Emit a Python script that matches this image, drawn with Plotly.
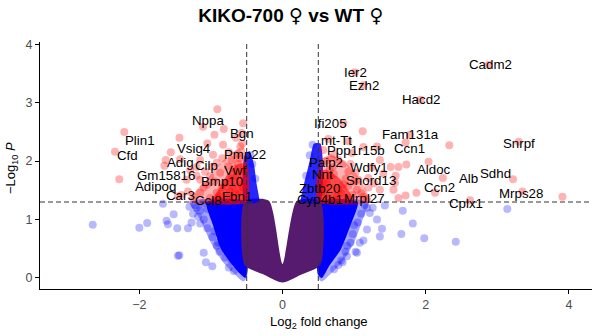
import plotly.graph_objects as go

# ---------------- data (log2 fold change, -log10 P) ----------------
labeled_genes = ["Plin1", "Cfd", "Adipoq", "Gm15816", "Vsig4", "Adig", "Nppa", "Bgn", "Pmp22",
                 "Cilp", "Vwf", "Bmp10", "Car3", "Ccl8", "Fbn1",
                 "Cadm2", "Ier2", "Ezh2", "Hacd2", "Ifi205", "Fam131a", "mt-Tt", "Ccn1",
                 "Ppp1r15b", "Snrpf", "Paip2", "Wdfy1", "Aldoc", "Nnt", "Snord13", "Alb",
                 "Sdhd", "Zbtb20", "Ccn2", "Mrps28", "Cyp4b1", "Mrpl27", "Cplx1"]
labeled_fc = [-2.21, -2.34, -2.28, -1.65, -1.44, -1.56, -0.91, -0.55, -0.57,
              -0.97, -0.71, -0.64, -1.41, -1.32, -0.59,
              2.88, 1.01, 1.13, 1.93, 0.85, 1.78, 0.64, 1.72,
              0.92, 3.30, 0.57, 0.97, 2.04, 0.56, 1.20, 2.24,
              3.22, 0.55, 2.13, 3.35, 0.64, 0.90, 2.62]
labeled_p = [2.50, 2.16, 1.69, 1.92, 2.40, 2.15, 2.89, 2.65, 2.48,
             2.11, 2.02, 1.74, 1.42, 1.48, 1.46,
             3.65, 3.52, 3.30, 3.05, 2.65, 2.45, 2.38, 2.32,
             2.34, 2.33, 2.19, 2.14, 1.99, 1.65, 1.71, 1.71,
             1.69, 1.48, 1.46, 1.48, 1.37, 1.34, 1.33]

# other significant genes (p < 0.05 and |log2FC| > 0.5)
sig_fc = [-1.63, -1.11, -0.82, -1.43, -1.29, -0.83, -0.59, -1.15, -1.01, -0.87,
          -1.15, -0.92, -0.69, -0.78, -1.01, -1.25, -1.46, -0.55, -0.76, -0.92,
          -1.15, -1.34, -1.05, -0.65, -0.70, -0.85, -1.10, -0.62, -0.75, -1.20,
          -0.95, -0.60, -0.66, -0.72, -0.80, -0.58, -0.88, -0.53, -0.68, -0.56,
          -1.05, -0.98, -0.90, -1.20, -1.08, -0.62, -0.55, -0.74, -0.84, -0.95,
          2.33, 1.73, 1.62, 1.51, 1.58, 1.57, 1.55, 1.87, 1.72, 1.62,
          3.91, 1.12, 1.13, 1.32, 0.78, 1.36, 0.92, 0.66, 1.41, 0.78,
          1.04, 1.36, 1.13, 0.70, 0.85, 1.00, 0.60, 0.75, 1.10, 0.95,
          1.25, 1.20, 0.68, 0.58, 0.62, 0.72, 0.82, 0.54, 0.66, 0.88,
          0.98, 1.06, 0.84, 0.72, 1.18, 0.60, 0.92, 1.28, 0.76, 1.02]
sig_p = [2.02, 2.59, 2.55, 2.03, 1.85, 2.28, 2.25, 1.68, 1.74, 1.80,
         1.46, 1.46, 1.57, 1.37, 1.37, 1.40, 1.40, 1.85, 1.91, 1.97,
         2.02, 1.68, 2.30, 2.40, 1.35, 1.55, 1.55, 1.95, 2.15, 1.90,
         2.45, 2.05, 1.45, 1.70, 1.62, 1.60, 1.40, 1.35, 1.88, 2.30,
         1.60, 1.90, 1.35, 1.75, 1.82, 2.12, 1.55, 1.48, 2.05, 1.65,
         2.27, 1.94, 1.90, 1.90, 1.75, 1.63, 1.51, 1.46, 1.41, 1.37,
         1.39, 2.51, 2.24, 2.25, 2.02, 2.02, 1.82, 1.74, 1.79, 1.51,
         1.51, 1.51, 1.39, 1.90, 1.60, 1.65, 1.55, 1.40, 1.45, 1.95,
         1.90, 1.55, 2.05, 1.40, 1.62, 1.78, 1.45, 1.50, 1.85, 1.70,
         1.42, 1.68, 1.95, 2.12, 1.35, 2.00, 1.58, 1.62, 1.34, 1.80]

# genes passing only one cut-off (outliers of the blue clouds)
one_fc = [-2.65, -2.00, -1.89, -1.67, -1.62, -1.52, -1.47, -1.46, -1.32, -1.10,
          -1.07, -0.98, -0.71, -1.60, -1.27, -1.15, -1.44, -1.20, -1.05, -0.90,
          -1.22, -1.15, -1.10, -1.05, -0.98, -0.92, -0.88, -0.80, -0.75, -0.68,
          -1.25, -1.12, -0.95, -0.85, -1.30, -1.18,
          1.68, 1.82, 1.66, 1.98, 2.42, 3.14, 1.43, 1.39, 1.32, 1.18,
          1.08, 1.36, 1.04, 0.90, 1.22, 0.84, 0.55, 1.13, 1.02, 1.26,
          1.15, 1.10, 1.05, 0.98, 0.95, 0.88, 0.82, 0.72, 1.18, 1.00,
          0.90, 0.78,
          -0.45, 0.42, 0.38, -0.42, 0.33, -0.38]
one_p = [0.91, 0.86, 0.94, 1.27, 0.98, 1.09, 0.85, 0.38, 0.85, 0.43,
         0.27, 0.20, 0.30, 0.92, 0.95, 0.93, 0.39, 1.20, 1.18, 0.60,
         1.25, 1.15, 1.00, 0.85, 0.70, 0.55, 0.45, 0.35, 0.18, 0.12,
         1.10, 1.28, 0.80, 0.60, 1.22, 1.05,
         1.15, 0.93, 0.75, 0.68, 0.62, 1.18, 1.24, 0.84, 1.00, 0.83,
         0.60, 0.71, 0.43, 0.37, 1.11, 0.27, 0.20, 0.64, 0.45, 1.20,
         1.25, 1.10, 0.95, 0.75, 0.60, 0.45, 0.30, 0.15, 1.20, 0.90,
         0.55, 0.22,
         2.10, 2.28, 2.10, 1.95, 1.75, 1.70]

# outlines (visual edges) of the densely overplotted clouds
fc_fringe_left_fc = [-0.50, -1.30, -1.15, -1.00, -0.85, -0.70, -0.55, -0.50]
fc_fringe_left_p = [1.30, 1.30, 1.00, 0.60, 0.30, 0.10, -0.06, 0.00]
fc_core_left_fc = [-0.50, -1.06, -0.97, -0.86, -0.72, -0.60, -0.52, -0.50]
fc_core_left_p = [1.30, 1.30, 0.90, 0.50, 0.25, 0.08, 0.00, 0.05]
fc_fringe_right_fc = [0.50, 1.20, 1.12, 1.00, 0.85, 0.70, 0.55, 0.50]
fc_fringe_right_p = [1.30, 1.30, 1.00, 0.60, 0.30, 0.10, -0.06, 0.00]
fc_core_right_fc = [0.50, 1.05, 0.95, 0.82, 0.65, 0.55, 0.50]
fc_core_right_p = [1.30, 1.30, 0.90, 0.50, 0.20, 0.00, 0.05]
p_only_left_fc = [-0.53, -0.53, -0.46, -0.40, -0.36, -0.33]
p_only_left_p = [1.30, 2.10, 2.17, 1.95, 1.60, 1.30]
p_only_right_fc = [0.53, 0.53, 0.44, 0.38, 0.30, 0.26]
p_only_right_p = [1.30, 2.30, 2.30, 2.00, 1.60, 1.30]
ns_fc = [-0.53, -0.53, -0.25, 0.00, 0.25, 0.53, 0.53, 0.20, 0.00, -0.19]
ns_p = [1.32, 0.22, 0.05, -0.08, 0.05, 0.22, 1.32, 1.32, 0.24, 1.32]
sig_halo_left_fc = [-0.50, -1.30, -1.22, -1.05, -0.88, -0.70, -0.55, -0.50]
sig_halo_left_p = [1.30, 1.30, 1.48, 1.70, 1.95, 2.15, 2.25, 2.10]
sig_core_left_fc = [-0.50, -1.00, -0.90, -0.78, -0.62, -0.50]
sig_core_left_p = [1.30, 1.30, 1.50, 1.75, 1.95, 1.95]
sig_halo_right_fc = [0.50, 1.22, 1.15, 1.02, 0.85, 0.66, 0.52]
sig_halo_right_p = [1.30, 1.30, 1.55, 1.80, 2.00, 2.10, 2.00]
sig_core_right_fc = [0.50, 1.00, 0.92, 0.80, 0.62, 0.50]
sig_core_right_p = [1.30, 1.30, 1.50, 1.70, 1.85, 1.80]

fc_cutoff = 0.5
p_cutoff = 1.30

# label text positions (after repel)
label_pos = {
    "Plin1": (-1.99, 2.35), "Cfd": (-2.17, 2.09), "Adipoq": (-1.78, 1.57),
    "Gm15816": (-1.63, 1.75), "Vsig4": (-1.24, 2.22), "Adig": (-1.43, 1.98),
    "Nppa": (-1.04, 2.69), "Bgn": (-0.57, 2.48), "Pmp22": (-0.52, 2.12),
    "Cilp": (-1.06, 1.92), "Vwf": (-0.66, 1.84), "Bmp10": (-0.84, 1.65),
    "Car3": (-1.43, 1.41), "Ccl8": (-1.03, 1.32), "Fbn1": (-0.63, 1.40),
    "Cadm2": (2.91, 3.65), "Ier2": (1.02, 3.52), "Ezh2": (1.14, 3.29),
    "Hacd2": (1.93, 3.05), "Ifi205": (0.67, 2.65), "Fam131a": (1.79, 2.46),
    "mt-Tt": (0.76, 2.35), "Ccn1": (1.77, 2.22), "Ppp1r15b": (1.03, 2.18),
    "Snrpf": (3.31, 2.31), "Paip2": (0.61, 1.98), "Wdfy1": (1.21, 1.89),
    "Aldoc": (2.12, 1.85), "Nnt": (0.56, 1.77), "Snord13": (1.24, 1.67),
    "Alb": (2.60, 1.70), "Sdhd": (2.97, 1.78), "Zbtb20": (0.51, 1.53),
    "Ccn2": (2.19, 1.54), "Mrps28": (3.33, 1.45), "Cyp4b1": (0.52, 1.34),
    "Mrpl27": (1.15, 1.36), "Cplx1": (2.56, 1.28),
}

RED = "#ff0000"
BLUE = "#0000ff"
PURPLE = "#561a6e"
FONT = "Liberation Sans, Arial, sans-serif"

fig = go.Figure()


def cloud(xs, ys, color, opacity):
    fig.add_trace(go.Scatter(x=xs + xs[:1], y=ys + ys[:1], mode="lines", fill="toself",
                             fillcolor=color, line=dict(color="rgba(0,0,0,0)", width=0, shape="spline",
                                                        smoothing=0.6),
                             opacity=opacity, hoverinfo="skip", showlegend=False))


cloud(fc_fringe_left_fc, fc_fringe_left_p, BLUE, 0.35)
cloud(fc_fringe_right_fc, fc_fringe_right_p, BLUE, 0.35)
cloud(fc_core_left_fc, fc_core_left_p, BLUE, 1.0)
cloud(fc_core_right_fc, fc_core_right_p, BLUE, 1.0)
cloud(ns_fc, ns_p, PURPLE, 1.0)
cloud(p_only_left_fc, p_only_left_p, BLUE, 0.85)
cloud(p_only_right_fc, p_only_right_p, BLUE, 0.85)

fig.add_trace(go.Scatter(x=one_fc, y=one_p, mode="markers",
                         marker=dict(color=BLUE, size=8, opacity=0.28, line=dict(width=0)),
                         hoverinfo="skip", showlegend=False))

cloud(sig_halo_left_fc, sig_halo_left_p, RED, 0.3)
cloud(sig_halo_right_fc, sig_halo_right_p, RED, 0.3)
cloud(sig_core_left_fc, sig_core_left_p, RED, 0.6)
cloud(sig_core_right_fc, sig_core_right_p, RED, 0.6)

fig.add_trace(go.Scatter(x=sig_fc + labeled_fc, y=sig_p + labeled_p, mode="markers",
                         marker=dict(color=RED, size=8, opacity=0.3, line=dict(width=0)),
                         hoverinfo="skip", showlegend=False))

# cut-off lines
for xv in (-fc_cutoff, fc_cutoff):
    fig.add_shape(type="line", x0=xv, x1=xv, y0=0, y1=1, xref="x", yref="paper",
                  line=dict(color="#333333", width=1, dash="5px,3px"), layer="above")
fig.add_shape(type="line", x0=0, x1=1, y0=p_cutoff, y1=p_cutoff, xref="paper", yref="y",
              line=dict(color="#333333", width=1, dash="5px,3px"), layer="above")

for g in labeled_genes:
    lx, ly = label_pos[g]
    fig.add_annotation(x=lx, y=ly, text=g, showarrow=False, xanchor="center", yanchor="middle",
                       font=dict(family=FONT, size=13.3, color="black"))

# axis titles
fig.add_annotation(xref="paper", yref="paper", x=0.505, y=-0.136, xanchor="center", yanchor="middle",
                   text="Log<sub>2</sub> fold change",
                   showarrow=False, font=dict(family=FONT, size=13, color="black"))
fig.add_annotation(xref="paper", yref="paper", x=-0.0507, y=0.49, xanchor="center", yanchor="middle",
                   text="\u2212Log<sub>10</sub> <i>P</i>",
                   showarrow=False, textangle=-90, font=dict(family=FONT, size=13, color="black"))

female = "<span style=\"font-family:DejaVu Sans;font-weight:normal\">\u2640</span>"
fig.update_layout(
    width=602, height=336,
    margin=dict(l=40, r=10, t=42, b=47),
    plot_bgcolor="white", paper_bgcolor="white",
    title=dict(text="<b>KIKO-700 " + female + " vs WT " + female + "</b>", x=0.483, xanchor="center",
               y=0.955, yanchor="middle", font=dict(family=FONT, size=19, color="black")),
    xaxis=dict(range=[-3.387, 4.323], tickvals=[-2, 0, 2, 4], showgrid=False, zeroline=False,
               showline=True, linecolor="black", linewidth=1.3, ticks="outside", ticklen=4,
               tickcolor="black", tickfont=dict(family=FONT, size=12.5, color="#4d4d4d")),
    yaxis=dict(range=[-0.19, 4.04], tickvals=[0, 1, 2, 3, 4], showgrid=False, zeroline=False,
               showline=True, linecolor="black", linewidth=1.3, ticks="outside", ticklen=4,
               tickcolor="black", tickfont=dict(family=FONT, size=12.5, color="#4d4d4d")),
    showlegend=False,
)

fig.write_html("out.html")
